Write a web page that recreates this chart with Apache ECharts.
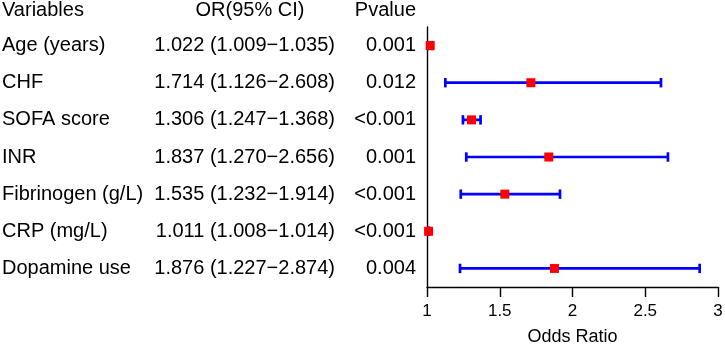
<!DOCTYPE html>
<html>
<head>
<meta charset="utf-8">
<script src="https://cdn.jsdelivr.net/npm/echarts@6/dist/echarts.min.js"></script>
<style>html,body{margin:0;padding:0;background:#fff;}#c{width:725px;height:344px;}</style>
</head>
<body>
<div id="c"></div>
<script>
const variables = ['Age (years)','CHF','SOFA score','INR','Fibrinogen (g/L)','CRP (mg/L)','Dopamine use'];
const orValues = [1.022, 1.714, 1.306, 1.837, 1.535, 1.011, 1.876];
const ciLower = [1.009, 1.126, 1.247, 1.270, 1.232, 1.008, 1.227];
const ciUpper = [1.035, 2.608, 1.368, 2.656, 1.914, 1.014, 2.874];
const orLabels = ['1.022 (1.009\u22121.035)','1.714 (1.126\u22122.608)','1.306 (1.247\u22121.368)','1.837 (1.270\u22122.656)','1.535 (1.232\u22121.914)','1.011 (1.008\u22121.014)','1.876 (1.227\u22122.874)'];
const pValues = ['0.001','0.012','<0.001','0.001','<0.001','<0.001','0.004'];
const headers = ['Variables','OR(95% CI)','Pvalue'];
const xTicks = [1, 1.5, 2, 2.5, 3];

const FONT = "'Liberation Sans', Arial, sans-serif";
const chart = echarts.init(document.getElementById('c'), null, {renderer:'canvas'});

const ciData = variables.map((v,i)=>[ciLower[i], ciUpper[i], i]);
const ptData = variables.map((v,i)=>[orValues[i], i]);

function catAxis(labels, margin, align, showLine) {
  return {
    type:'category', data: labels, inverse:true, gridIndex:0, position:'left', offset:0,
    axisLine:{show:showLine, lineStyle:{color:'#000', width:1.4}},
    axisTick:{show:false}, splitLine:{show:false},
    axisLabel:{margin:margin, align:align, color:'#000', fontSize:20, fontFamily:FONT}
  };
}

chart.setOption({
  animation:false,
  backgroundColor:'#fff',
  grid:{left:427, right:7, top:27, bottom:57, containLabel:false, outerBoundsMode:'none'},
  xAxis:{
    type:'value', min:xTicks[0], max:xTicks[xTicks.length-1], interval:0.5,
    axisLine:{show:true, onZero:false, lineStyle:{color:'#000', width:1.4}},
    axisTick:{show:true, length:10, lineStyle:{color:'#000', width:1.4}},
    splitLine:{show:false},
    axisLabel:{margin:16, color:'#000', fontSize:17, fontFamily:FONT},
    name:'Odds Ratio', nameLocation:'middle', nameGap:41,
    nameTextStyle:{color:'#000', fontSize:18, fontFamily:FONT}
  },
  yAxis:[
    catAxis(variables, 425, 'left', true),
    catAxis(orLabels, 92, 'right', false),
    catAxis(pValues, 11, 'right', false)
  ],
  graphic:[
    {type:'text', x:2, y:10, style:{text:headers[0], fill:'#000', fontSize:20, fontFamily:FONT, align:'left', verticalAlign:'middle'}},
    {type:'text', x:250, y:10, style:{text:headers[1], fill:'#000', fontSize:20, fontFamily:FONT, align:'center', verticalAlign:'middle'}},
    {type:'text', x:416, y:10, style:{text:headers[2], fill:'#000', fontSize:20, fontFamily:FONT, align:'right', verticalAlign:'middle'}}
  ],
  series:[
    {
      type:'custom', xAxisIndex:0, yAxisIndex:0, data:ciData,
      renderItem:function(params, api){
        const p1 = api.coord([api.value(0), api.value(2)]);
        const p2 = api.coord([api.value(1), api.value(2)]);
        const h = 4.7;
        const st = {stroke:'#0000ff', lineWidth:2.7};
        return {type:'group', children:[
          {type:'line', shape:{x1:p1[0], y1:p1[1], x2:p2[0], y2:p2[1]}, style:st},
          {type:'line', shape:{x1:p1[0], y1:p1[1]-h, x2:p1[0], y2:p1[1]+h}, style:st},
          {type:'line', shape:{x1:p2[0], y1:p2[1]-h, x2:p2[0], y2:p2[1]+h}, style:st}
        ]};
      },
      z:2
    },
    {
      type:'scatter', xAxisIndex:0, yAxisIndex:0, data:ptData,
      symbol:'rect', symbolSize:9, itemStyle:{color:'#ff0000', opacity:1}, z:3
    }
  ]
});
</script>
</body>
</html>
